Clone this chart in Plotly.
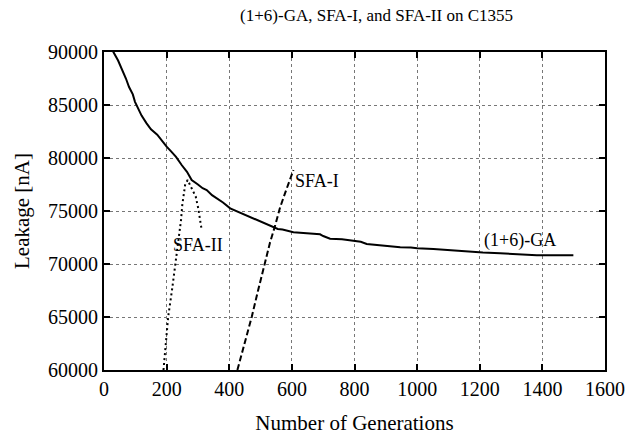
import plotly.graph_objects as go

# (1+6)-GA leakage trajectory
ga_gen = [20, 30, 45, 56, 70, 80, 92, 99, 112, 120, 136, 150, 170, 185, 200, 215, 230,
          248, 258, 265, 280, 292, 300, 315, 328, 345, 360, 380, 403, 415, 430, 448,
          466, 480, 500, 520, 541, 555, 570, 590, 605, 626, 660, 690, 700, 722, 760,
          797, 820, 839, 870, 900, 946, 980, 1000, 1052, 1100, 1130, 1159, 1210, 1265,
          1320, 1350, 1382, 1440, 1499]
ga_leak = [90700, 90000, 89200, 88500, 87500, 86700, 86000, 85300, 84500, 84000, 83270,
           82700, 82200, 81600, 81070, 80600, 80100, 79340, 79000, 78700, 77925, 77700,
           77500, 77150, 76980, 76500, 76200, 75800, 75250, 75100, 74900, 74650, 74460,
           74300, 74000, 73800, 73520, 73300, 73250, 73100, 72990, 72950, 72850, 72800,
           72640, 72390, 72330, 72200, 72100, 71890, 71800, 71700, 71570, 71550, 71480,
           71420, 71300, 71250, 71160, 71080, 71010, 70920, 70900, 70820, 70820, 70820]

# SFA-I trajectory
sfa1_gen = [426, 450, 472, 492, 512, 530, 547, 562, 578, 592, 605]
sfa1_leak = [60000, 62500, 65030, 67500, 69900, 72000, 73680, 75300, 76670, 77900, 78870]

# SFA-II trajectory
sfa2_gen = [190, 198, 205, 217, 229, 238, 246, 250, 259, 267, 273, 280, 277, 285, 293,
            301, 307, 312]
sfa2_leak = [60000, 62500, 65030, 67500, 70070, 72100, 74150, 75570, 77450, 77925, 77550,
             77000, 77200, 76700, 76350, 75250, 74310, 73200]

labels = [
    ("(1+6)-GA", 1327, 72260),
    ("SFA-I", 680, 77830),
    ("SFA-II", 300, 71790),
]

x_ticks = [0, 200, 400, 600, 800, 1000, 1200, 1400, 1600]
y_ticks = [60000, 65000, 70000, 75000, 80000, 85000, 90000]

FONT = "Liberation Serif"

fig = go.Figure()
fig.add_trace(go.Scatter(x=ga_gen, y=ga_leak, mode="lines",
                         line=dict(color="black", width=2)))
fig.add_trace(go.Scatter(x=sfa1_gen, y=sfa1_leak, mode="lines",
                         line=dict(color="black", width=2, dash="6px,3px")))
fig.add_trace(go.Scatter(x=sfa2_gen, y=sfa2_leak, mode="lines",
                         line=dict(color="black", width=2, dash="2px,3px")))

for text, x, y in labels:
    fig.add_annotation(x=x, y=y, text=text, showarrow=False, xref="x", yref="y",
                       font=dict(family=FONT, size=18, color="black"))

axis_common = dict(
    showline=True, linecolor="black", linewidth=2, mirror="ticks",
    ticks="inside", ticklen=6, tickwidth=1.5, tickcolor="black",
    showgrid=True, gridcolor="#777777", gridwidth=1, griddash="dot",
    zeroline=False, automargin=False,
    tickfont=dict(family=FONT, size=20, color="black"),
)

fig.update_xaxes(range=[0, 1600], tickvals=x_ticks,
                 ticktext=[str(v) for v in x_ticks],
                 title=dict(text="Number of Generations", standoff=16,
                            font=dict(family=FONT, size=21, color="black")),
                 **axis_common)
fig.update_yaxes(range=[60000, 90000], tickvals=y_ticks,
                 ticktext=[str(v) for v in y_ticks],
                 title=dict(text="Leakage [nA]", standoff=13,
                            font=dict(family=FONT, size=21, color="black")),
                 **axis_common)

fig.update_layout(
    width=629, height=440,
    margin=dict(l=104, r=24, t=52, b=70),
    paper_bgcolor="white", plot_bgcolor="white",
    showlegend=False,
    title=dict(text="(1+6)-GA, SFA-I, and SFA-II on C1355", x=0.544, xref="paper",
               xanchor="center", y=0.965, yanchor="middle",
               font=dict(family=FONT, size=17, color="black")),
)

fig.write_html("out.html")
